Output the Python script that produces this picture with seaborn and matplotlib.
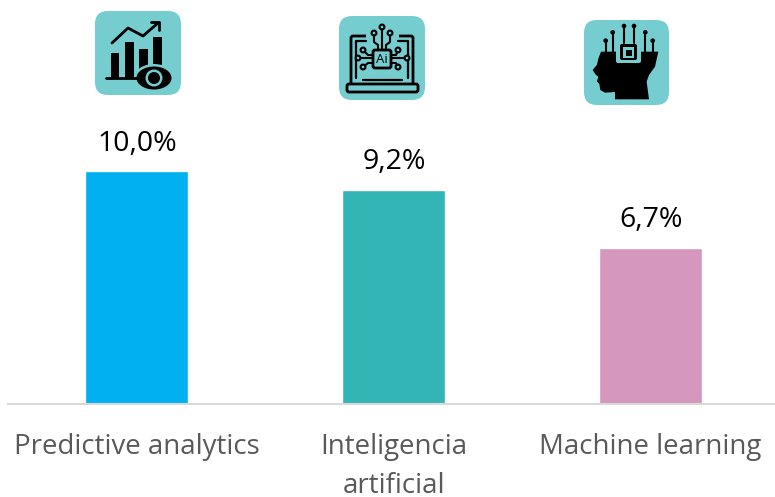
import matplotlib
matplotlib.use("Agg")
import matplotlib.pyplot as plt
from matplotlib.patches import FancyBboxPatch, Rectangle, Circle, Polygon, Ellipse
import pandas as pd
import seaborn as sns

# data
categorias = ["Predictive analytics", "Inteligencia\nartificial", "Machine learning"]
valores = [10.0, 9.2, 6.7]
etiquetas = ["10,0%", "9,2%", "6,7%"]
colores = ["#00B0F0", "#34B5B5", "#D597BE"]

TEAL = "#76CDCF"

sns.set_theme(style="white")
plt.rcParams["font.family"] = ["Open Sans", "DejaVu Sans"]

df = pd.DataFrame({"categoria": categorias, "valor": valores})

fig = plt.figure(figsize=(7.75, 4.97), dpi=100)
ax = fig.add_axes([8 / 775, 1 - 404 / 497, 771 / 775, 232.6 / 497])
sns.barplot(data=df, x="categoria", y="valor", hue="categoria", palette=colores,
            saturation=1, legend=False, width=0.404, ax=ax)
ax.set_xlim(-0.5, 2.5)
ax.set_ylim(0, 10)
ax.set_xlabel("")
ax.set_ylabel("")
ax.set_yticks([])
ax.tick_params(axis="x", length=0, pad=21, labelsize=19.9, labelcolor="#595959")
for lab in ax.get_xticklabels():
    lab.set_linespacing(1.5)
sns.despine(ax=ax, left=True)
ax.spines["bottom"].set_color("#D9D9D9")
ax.spines["bottom"].set_linewidth(1.5)

for i, txt in enumerate(etiquetas):
    ax.annotate(txt, (i, valores[i]), xytext=(0.5, 10), textcoords="offset points",
                ha="center", va="bottom", fontsize=20.5, color="black")

# iconos, en pixeles de la figura
ov = fig.add_axes([0, 0, 1, 1], zorder=5)
ov.set_xlim(0, 775)
ov.set_ylim(497, 0)
ov.axis("off")


def fondo(x0, y0, x1, y1):
    ov.add_patch(FancyBboxPatch((x0 + 12, y0 + 12), x1 - x0 - 24, y1 - y0 - 24,
                                boxstyle="round,pad=12,rounding_size=13",
                                fc=TEAL, ec="none"))


def caja(x0, y0, x1, y1, lw=2.0, fc="none", ec="black"):
    ov.add_patch(FancyBboxPatch((x0, y0), x1 - x0, y1 - y0,
                                boxstyle="round,pad=0,rounding_size=2",
                                fc=fc, ec=ec, lw=lw))


def nodo(x, y, r=2.4):
    ov.add_patch(Circle((x, y), r, fc=TEAL, ec="black", lw=1.5, zorder=4))


# icono 1: barras con ojo
fondo(95, 11, 181, 95)
for x0, x1, top, base in [(111, 119, 53, 78), (125, 134, 42, 78),
                          (139, 148, 49, 72), (153, 162, 37, 65)]:
    ov.add_patch(Rectangle((x0, top), x1 - x0, base - top, fc="black", ec="none"))
ov.plot([106, 137], [78, 78], color="black", lw=2)
ov.plot([112, 128, 143, 158], [43, 28, 36, 23], color="black", lw=2)
ov.plot([151, 159, 159], [22, 22, 30], color="black", lw=2)
ov.add_patch(Ellipse((154, 78), 40, 28, fc=TEAL, ec="none"))
ov.add_patch(Ellipse((154, 78), 35, 23, fc="black", ec="none"))
ov.add_patch(Circle((154, 78), 8.5, fc=TEAL, ec="none"))
ov.add_patch(Circle((154, 78), 6, fc="black", ec="none"))

# icono 2: portatil con chip
fondo(339, 16, 425, 100)
caja(351, 36, 413, 85)
ov.plot([356, 356, 366], [78, 41, 41], color="black", lw=1.6)
ov.plot([398, 408, 408], [41, 41, 78], color="black", lw=1.6)
ov.plot([363, 402], [80, 80], color="black", lw=1.6)
caja(347, 84, 418, 92, fc=TEAL)
ov.add_patch(Rectangle((366, 34), 33, 4, fc=TEAL, ec="none"))
for xs, ys in [([382, 382], [27, 50]),
               ([374, 374, 378, 378], [33, 42, 45, 50]),
               ([390, 390, 386, 386], [33, 42, 45, 50]),
               ([363, 368, 373], [50, 55, 55]),
               ([358, 373], [58, 58]),
               ([363, 368, 373], [67, 63, 63]),
               ([398, 396, 391], [50, 55, 55]),
               ([407, 391], [58, 58]),
               ([398, 396, 391], [67, 63, 63])]:
    ov.plot(xs, ys, color="black", lw=1.5)
for x, y in [(382, 27), (374, 33), (390, 33), (363, 50), (358, 58), (363, 67),
             (398, 50), (407, 58), (398, 67)]:
    nodo(x, y)
caja(373, 50, 391, 68, fc=TEAL)
ov.text(382, 59.5, "Ai", ha="center", va="center", fontsize=9.5, color="black")

# icono 3: cabeza con chip
fondo(584, 20, 669, 105)
ox, oy = 575, 10
cabeza = [(120, 268), (120, 246), (90, 248), (76, 240), (73, 222), (66, 214), (70, 200),
          (62, 194), (53, 180), (66, 164), (70, 146), (78, 125), (250, 125), (240, 170),
          (222, 195), (215, 215), (222, 268)]
ov.add_patch(Polygon([(ox + a / 3, oy + b / 3) for a, b in cabeza], fc="black", ec="none"))
for a, top, base in [(92, 92, 125), (113, 67, 125), (147, 48, 100), (177, 48, 100),
                     (211, 67, 125), (233, 92, 125)]:
    ov.plot([ox + a / 3, ox + a / 3], [oy + top / 3, oy + base / 3], color="black", lw=1.5)
    ov.add_patch(Circle((ox + a / 3, oy + top / 3), 2.3, fc="black", ec="none"))
caja(575 + 41, 10 + 31, 575 + 66, 10 + 53, lw=0, fc=TEAL, ec="none")
caja(575 + 45, 10 + 34, 575 + 62, 10 + 50, lw=0, fc="black", ec="none")
ov.add_patch(Rectangle((575 + 48, 10 + 37), 11, 11, fc=TEAL, ec="none"))
ov.add_patch(Rectangle((575 + 50.5, 10 + 39.5), 6, 6, fc="black", ec="none"))

fig.savefig("out.png", dpi=100)
